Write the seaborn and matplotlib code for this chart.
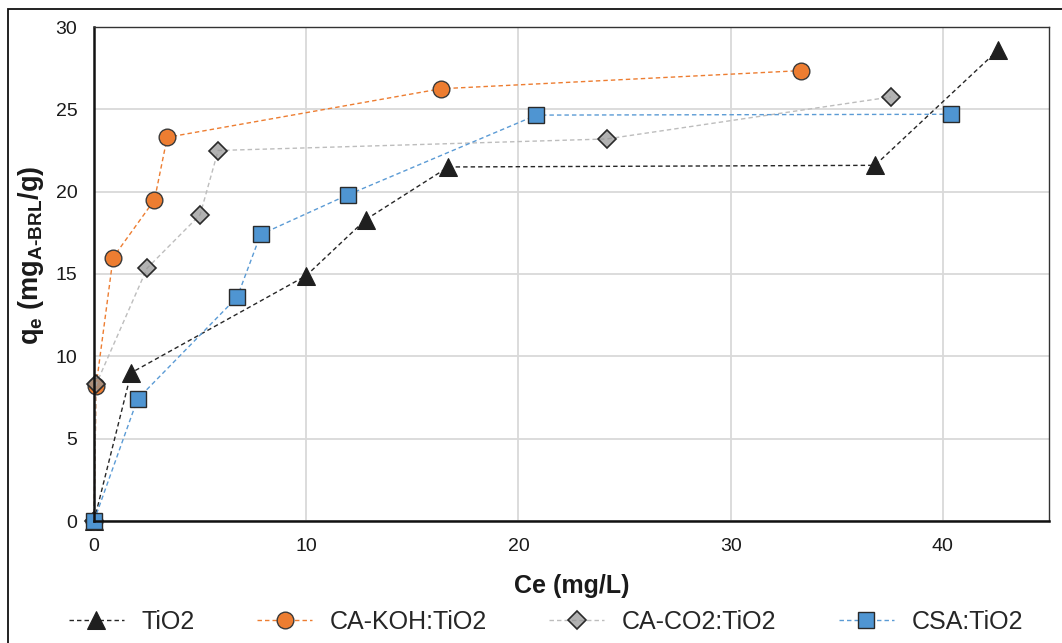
import matplotlib
matplotlib.use("Agg")
import matplotlib.pyplot as plt
from matplotlib.patches import Rectangle
import seaborn as sns

# Adsorption isotherm data: equilibrium concentration Ce (mg/L) vs uptake qe (mg/g)
tio2_ce = [0.0, 1.75, 10.0, 12.8, 16.7, 36.8, 42.6]
tio2_qe = [0.0, 9.0, 14.9, 18.3, 21.5, 21.6, 28.6]

cakoh_ce = [0.0, 0.1, 0.9, 2.85, 3.45, 16.35, 33.3]
cakoh_qe = [0.0, 8.2, 16.0, 19.5, 23.3, 26.25, 27.35]

caco2_ce = [0.0, 0.1, 2.5, 5.0, 5.85, 24.15, 37.55]
caco2_qe = [0.0, 8.3, 15.35, 18.6, 22.5, 23.2, 25.75]

csa_ce = [0.0, 2.05, 6.75, 7.85, 11.95, 20.85, 40.4]
csa_qe = [0.0, 7.4, 13.6, 17.4, 19.8, 24.65, 24.7]

series_names = ["TiO2", "CA-KOH:TiO2", "CA-CO2:TiO2", "CSA:TiO2"]
x_ticks = [0, 10, 20, 30, 40]
y_ticks = [0, 5, 10, 15, 20, 25, 30]

sns.set_theme(style="white")
plt.rcParams["font.family"] = ["Liberation Sans", "DejaVu Sans"]
plt.rcParams["mathtext.fontset"] = "custom"
plt.rcParams["mathtext.rm"] = "Liberation Sans:bold"
plt.rcParams["mathtext.it"] = "Liberation Sans:bold"
plt.rcParams["mathtext.bf"] = "Liberation Sans:bold"

fig = plt.figure(figsize=(10.62, 6.43), dpi=100)
ax = fig.add_axes([94 / 1062, 1 - 521 / 643, 955 / 1062, 494 / 643])

dash = (0, (3.2, 2.2))
styles = [
    dict(color="#262626", marker="^", markersize=12.5, markerfacecolor="#1f1f1f",
         markeredgecolor="#1f1f1f", linewidth=1.0),
    dict(color="#ED7D31", marker="o", markersize=12, markerfacecolor="#ED7D31",
         markeredgecolor="#3a3a3a", markeredgewidth=1.0, linewidth=1.0),
    dict(color="#BDBDBD", marker="D", markersize=9, markerfacecolor=(0.58, 0.58, 0.58, 0.72),
         markeredgecolor="#2a2a2a", markeredgewidth=1.2, linewidth=1.0),
    dict(color="#5B9BD5", marker="s", markersize=11.5, markerfacecolor="#4F95D2",
         markeredgecolor="#2a2a2a", markeredgewidth=1.0, linewidth=1.0),
]
data = [(tio2_ce, tio2_qe), (cakoh_ce, cakoh_qe), (caco2_ce, caco2_qe), (csa_ce, csa_qe)]

for (xs, ys), name, st in zip(data, series_names, styles):
    sns.lineplot(x=xs, y=ys, ax=ax, sort=False, label=name, linestyle=dash,
                 clip_on=False, **st)

handles, labels = ax.get_legend_handles_labels()
if ax.get_legend() is not None:
    ax.get_legend().remove()

ax.set_xlim(0, 45)
ax.set_ylim(0, 30)
ax.set_xticks(x_ticks)
ax.set_yticks(y_ticks)
ax.grid(True, color="#D9D9D9", linewidth=1.3)
ax.set_axisbelow(True)
ax.tick_params(axis="both", length=0, labelsize=14, colors="#1a1a1a", pad=12)

for side in ("left", "bottom"):
    ax.spines[side].set_color("#111111")
    ax.spines[side].set_linewidth(1.8)
for side in ("top", "right"):
    ax.spines[side].set_color("#333333")
    ax.spines[side].set_linewidth(1.0)

ax.set_xlabel("Ce (mg/L)", fontsize=18, fontweight="bold", color="#1a1a1a")
ax.set_ylabel(r"q$_{\mathrm{e}}$ (mg$_{\text{A-BRL}}$/g)", fontsize=19.5,
              fontweight="bold", color="#1a1a1a")
ax.xaxis.set_label_coords(0.5, -0.108)
ax.yaxis.set_label_coords(-0.050, 0.538)

fig.legend(handles, labels, loc="center", bbox_to_anchor=(0.514, 0.033), ncol=4,
           frameon=False, fontsize=18, handlelength=2.2, handletextpad=0.7,
           columnspacing=2.5, numpoints=1)

# outer frame around the figure
fig.patches.append(Rectangle((8 / 1062, -0.2), 2.0, 1.2 - 9 / 643,
                             transform=fig.transFigure, fill=False,
                             edgecolor="#111111", linewidth=1.3))

fig.savefig("out.png", dpi=100)
